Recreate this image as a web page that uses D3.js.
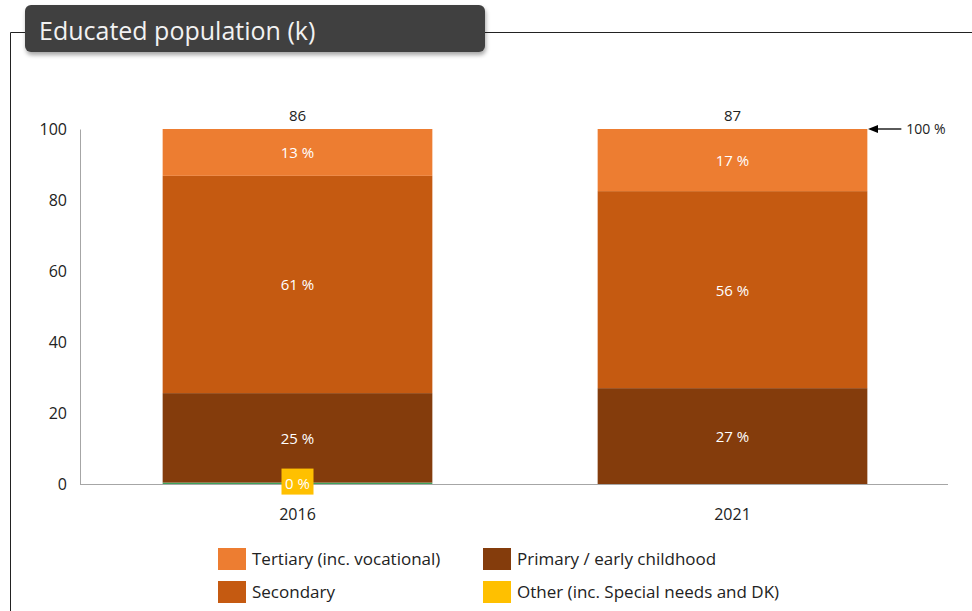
<!DOCTYPE html>
<html>
<head>
<meta charset="utf-8">
<script src="https://cdn.jsdelivr.net/npm/d3@7"></script>
<style>
  body { margin: 0; background: #fff; }
  text { font-family: "Open Sans", "Noto Sans", sans-serif; }
</style>
</head>
<body>
<svg id="chart" width="972" height="611"></svg>
<script>
// chart data
const years = ["2016", "2021"];
const totals = [86, 87];
const seriesNames = ["Other (inc. Special needs and DK)", "Primary / early childhood", "Secondary", "Tertiary (inc. vocational)"];
const other = [0.4, 0];
const primary = [25.2, 27];
const secondary = [61.2, 55.5];
const tertiary = [13.2, 17.5];
const pctLabels = {
  other: ["0 %", null],
  primary: ["25 %", "27 %"],
  secondary: ["61 %", "56 %"],
  tertiary: ["13 %", "17 %"]
};
const yTicks = [0, 20, 40, 60, 80, 100];

const colors = {
  tertiary: "#ED7D31",
  secondary: "#C55A11",
  primary: "#843C0C",
  otherBar: "#3DA35D",
  other: "#FFC000"
};

const svg = d3.select("#chart");

// outer frame + title tab
svg.append("path")
  .attr("d", "M10.5,611 V32.5 H25 M485,32.5 H972")
  .attr("fill", "none").attr("stroke", "#222").attr("stroke-width", 1);

const defs = svg.append("defs");
const flt = defs.append("filter").attr("id", "shadow").attr("x", "-5%").attr("y", "-20%").attr("width", "110%").attr("height", "160%");
flt.append("feDropShadow").attr("dx", 1).attr("dy", 3).attr("stdDeviation", 2).attr("flood-color", "#000").attr("flood-opacity", 0.35);

svg.append("rect")
  .attr("x", 25).attr("y", 5).attr("width", 460).attr("height", 47)
  .attr("rx", 6).attr("fill", "#404040")
  .attr("filter", "url(#shadow)");
svg.append("text")
  .attr("x", 39).attr("y", 40)
  .attr("fill", "#f2f2f2").attr("font-size", 25)
  .text("Educated population (k)");

// scales
const x = d3.scaleBand().domain(years).range([80, 950]).paddingInner(0.38).paddingOuter(0.19);
const y = d3.scaleLinear().domain([0, 100]).range([484, 129]);

// axes
const yAxis = svg.append("g").attr("transform", "translate(80,0)")
  .call(d3.axisLeft(y).tickValues(yTicks).tickSize(0).tickPadding(13));
yAxis.select(".domain").attr("stroke", "#a6a6a6");
yAxis.selectAll("text").attr("font-size", 16).attr("fill", "#222").attr("font-family", "'Open Sans', sans-serif");

const xAxis = svg.append("g").attr("transform", "translate(0,484)")
  .call(d3.axisBottom(x).tickSize(0).tickPadding(25));
xAxis.select(".domain").attr("stroke", "#a6a6a6").attr("d", "M80,0.5H948");
xAxis.selectAll("text").attr("font-size", 16).attr("fill", "#222").attr("font-family", "'Open Sans', sans-serif");

// stacked bars
const rows = years.map((yr, i) => ({
  year: yr, other: other[i], primary: primary[i], secondary: secondary[i], tertiary: tertiary[i]
}));
const keys = ["other", "primary", "secondary", "tertiary"];
const stack = d3.stack().keys(keys)(rows);

stack.forEach(layer => {
  const key = layer.key;
  svg.append("g").selectAll("rect")
    .data(layer)
    .enter().append("rect")
      .attr("x", d => x(d.data.year))
      .attr("width", x.bandwidth())
      .attr("y", d => y(d[1]))
      .attr("height", d => y(d[0]) - y(d[1]))
      .attr("fill", key === "other" ? colors.otherBar : colors[key]);
});

// segment labels
stack.forEach(layer => {
  const key = layer.key;
  if (key === "other") return;
  layer.forEach((d, i) => {
    const lbl = pctLabels[key][i];
    if (!lbl) return;
    svg.append("text")
      .attr("x", x(d.data.year) + x.bandwidth() / 2)
      .attr("y", y((d[0] + d[1]) / 2) + 6)
      .attr("text-anchor", "middle")
      .attr("fill", "#fff").attr("font-size", 15)
      .text(lbl);
  });
});

// other label with yellow box
pctLabels.other.forEach((lbl, i) => {
  if (!lbl) return;
  const cx = x(years[i]) + x.bandwidth() / 2;
  const cy = y(other[i]);
  svg.append("rect")
    .attr("x", cx - 16).attr("y", cy - 14).attr("width", 32).attr("height", 26)
    .attr("fill", colors.other);
  svg.append("text")
    .attr("x", cx).attr("y", cy + 6)
    .attr("text-anchor", "middle")
    .attr("fill", "#fff").attr("font-size", 15)
    .text(lbl);
});

// totals
years.forEach((yr, i) => {
  svg.append("text")
    .attr("x", x(yr) + x.bandwidth() / 2)
    .attr("y", y(100) - 8)
    .attr("text-anchor", "middle")
    .attr("fill", "#222").attr("font-size", 15)
    .text(totals[i]);
});

// 100 % marker
const lastX = x(years[1]) + x.bandwidth();
defs.append("marker").attr("id", "arrow").attr("viewBox", "0 0 10 10")
  .attr("refX", 1).attr("refY", 5).attr("markerWidth", 8).attr("markerHeight", 8)
  .attr("orient", "auto-start-reverse")
  .append("path").attr("d", "M0,1 L10,5 L0,9 Z").attr("fill", "#000");
svg.append("line")
  .attr("x1", lastX + 10).attr("x2", lastX + 34)
  .attr("y1", y(100)).attr("y2", y(100))
  .attr("stroke", "#000").attr("stroke-width", 1.3)
  .attr("marker-start", "url(#arrow)");
svg.append("text")
  .attr("x", lastX + 39).attr("y", y(100) + 5)
  .attr("fill", "#222").attr("font-size", 14)
  .text("100 %");

// legend
const legendItems = [
  { name: seriesNames[3], color: colors.tertiary, col: 0, row: 0 },
  { name: seriesNames[1], color: colors.primary, col: 1, row: 0 },
  { name: seriesNames[2], color: colors.secondary, col: 0, row: 1 },
  { name: seriesNames[0], color: colors.other, col: 1, row: 1 }
];
const legend = svg.append("g").selectAll("g")
  .data(legendItems)
  .enter().append("g")
    .attr("transform", d => "translate(" + (218 + d.col * 265) + "," + (548 + d.row * 33) + ")");
legend.append("rect")
  .attr("width", 28).attr("height", 22)
  .attr("fill", d => d.color);
legend.append("text")
  .attr("x", 34).attr("y", 17)
  .attr("fill", "#222").attr("font-size", 17)
  .text(d => d.name);
</script>
</body>
</html>
